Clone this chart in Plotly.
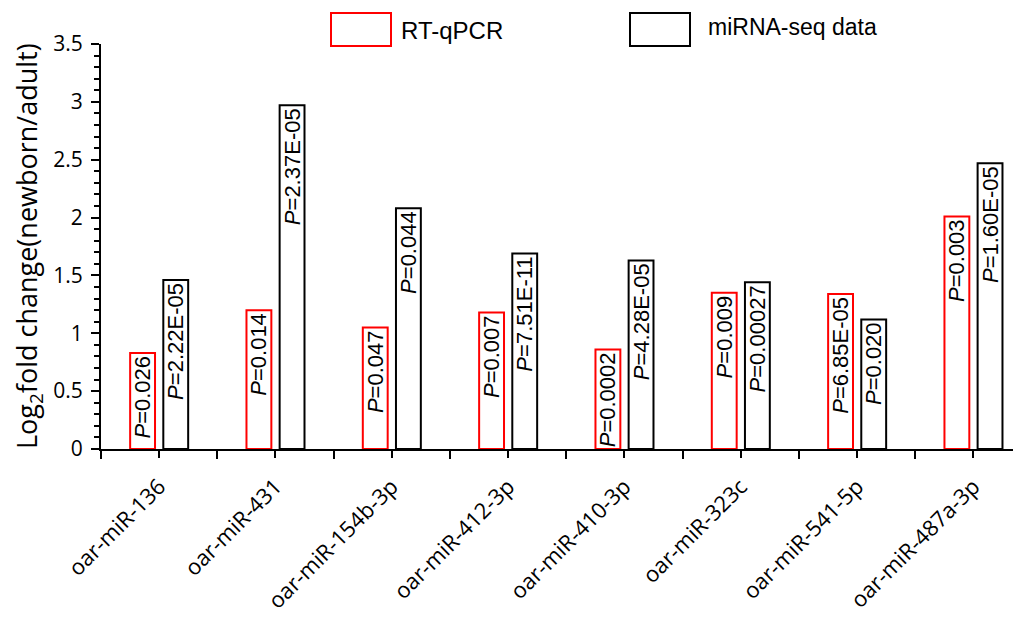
import plotly.graph_objects as go

categories = ["oar-miR-136", "oar-miR-431", "oar-miR-154b-3p", "oar-miR-412-3p",
              "oar-miR-410-3p", "oar-miR-323c", "oar-miR-541-5p", "oar-miR-487a-3p"]
rtqpcr = [0.83, 1.20, 1.05, 1.18, 0.86, 1.35, 1.34, 2.01]
mirnaseq = [1.46, 2.97, 2.08, 1.69, 1.63, 1.44, 1.12, 2.47]
rt_p = ["0.026", "0.014", "0.047", "0.007", "0.0002", "0.009", "6.85E-05", "0.003"]
seq_p = ["2.22E-05", "2.37E-05", "0.044", "7.51E-11", "4.28E-05", "0.00027", "0.020", "1.60E-05"]

xs = list(range(len(categories)))
RED = "#ff0000"
bar_font = dict(family="Liberation Sans, Arial", size=22, color="black")

fig = go.Figure()
fig.add_trace(go.Bar(
    x=xs, y=rtqpcr, name="RT-qPCR",
    marker=dict(color="white", line=dict(color=RED, width=2)),
    text=["<i>P</i>=" + p for p in rt_p], textposition="inside",
    insidetextanchor="end", textangle=-90, constraintext="none",
    textfont=bar_font,
))
fig.add_trace(go.Bar(
    x=xs, y=mirnaseq, name="miRNA-seq data",
    marker=dict(color="white", line=dict(color="black", width=2)),
    text=["<i>P</i>=" + p for p in seq_p], textposition="inside",
    insidetextanchor="end", textangle=-90, constraintext="none",
    textfont=bar_font,
))

# page body has an 8px margin, so the figure is offset by 8px in the window
OFF = 8
FW, FH = 1021 - OFF, 619 - OFF
L, T, W, H = 101 - OFF, 44 - OFF, 919, 405


def px(x):
    return (x - OFF - L) / W


def py(y):
    return (T + H - (y - OFF)) / H


shapes = [
    dict(type="rect", xref="paper", yref="paper", x0=px(331), x1=px(391), y0=py(46), y1=py(13),
         line=dict(color=RED, width=2), fillcolor="white"),
    dict(type="rect", xref="paper", yref="paper", x0=px(630), x1=px(690), y0=py(46), y1=py(13),
         line=dict(color="black", width=2), fillcolor="white"),
]
annotations = [
    dict(text="RT-qPCR", xref="paper", yref="paper", x=px(399), y=py(31), xanchor="left",
         yanchor="middle", showarrow=False, font=dict(family="Liberation Sans, Arial", size=24, color="black")),
    dict(text="miRNA-seq data", xref="paper", yref="paper", x=px(706), y=py(27), xanchor="left",
         yanchor="middle", showarrow=False, font=dict(family="Liberation Sans, Arial", size=23, color="black")),
    dict(text="Log<sub>2</sub>fold change(newborn/adult)", xref="paper", yref="paper",
         x=px(28), y=py(246), xanchor="center", yanchor="middle", textangle=-90, showarrow=False,
         font=dict(family="Open Sans", size=27, color="black")),
]

fig.update_layout(
    width=FW, height=FH,
    margin=dict(l=L, r=FW - L - W, t=T, b=FH - T - H, autoexpand=False),
    paper_bgcolor="white", plot_bgcolor="white",
    barmode="group", bargap=0.43, bargroupgap=0.25,
    showlegend=False,
    shapes=shapes, annotations=annotations,
    font=dict(family="Open Sans", color="black"),
)
fig.update_xaxes(
    range=[-0.5, 7.4], tickmode="array", tickvals=xs, ticktext=categories,
    tickangle=-45, tickfont=dict(family="Open Sans", size=22, color="black"),
    ticks="outside", ticklen=7, tickwidth=2, tickcolor="black", ticklabelstandoff=7,
    minor=dict(tickmode="array", tickvals=[i - 0.5 for i in range(len(categories) + 1)],
               ticks="outside", ticklen=8, tickwidth=2, tickcolor="black"),
    showline=True, linecolor="black", linewidth=2, showgrid=False, zeroline=False,
    automargin=False,
)
fig.update_yaxes(
    range=[0, 3.5], tickmode="linear", tick0=0, dtick=0.5,
    tickfont=dict(family="Open Sans", size=21, color="black"),
    ticks="outside", ticklen=8, tickwidth=2, tickcolor="black", ticklabelstandoff=4,
    minor=dict(dtick=0.1, ticks="outside", ticklen=5, tickwidth=1.5, tickcolor="black"),
    showline=True, linecolor="black", linewidth=2, showgrid=False, zeroline=False,
    automargin=False,
)

fig.write_html("out.html")
